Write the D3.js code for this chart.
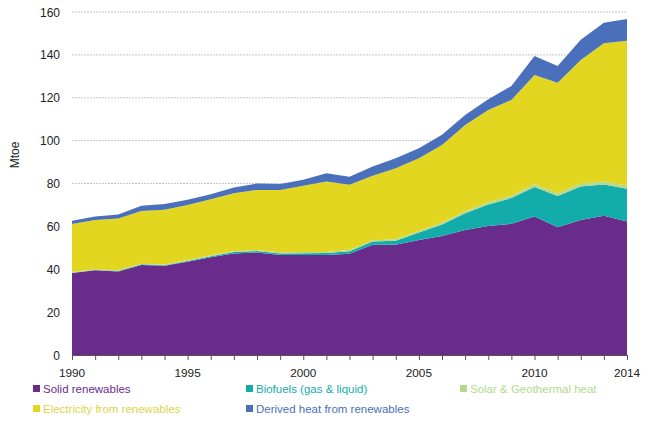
<!DOCTYPE html>
<html>
<head>
<meta charset="utf-8">
<script src="https://cdn.jsdelivr.net/npm/d3@7"></script>
<style>
  body { margin: 0; background: #fff; }
  text { font-family: "Liberation Sans", Arial, sans-serif; }
</style>
</head>
<body>
<div id="chart"></div>
<script>
var years = d3.range(1990, 2015);
var solid = [38.2, 39.5, 39, 42, 41.6, 43.5, 45.6, 47.4, 47.8, 46.6, 46.6, 46.6, 47.2, 51.4, 51.4, 53.7, 55.5, 58.3, 60.2, 61.2, 64.6, 59.6, 63, 64.9, 62.3];
var biofuels = [0.2, 0.2, 0.2, 0.3, 0.3, 0.4, 0.5, 0.6, 0.7, 0.8, 0.9, 1.0, 1.2, 1.5, 1.9, 3.5, 5.4, 7.8, 10, 12, 13.8, 14.6, 15.6, 14.6, 15.2];
var solar = [0.3, 0.3, 0.3, 0.3, 0.3, 0.4, 0.4, 0.4, 0.4, 0.5, 0.5, 0.5, 0.6, 0.6, 0.7, 0.7, 0.8, 0.9, 1.0, 1.1, 1.2, 1.3, 1.4, 1.5, 1.5];
var electricity = [22.4, 23, 24.2, 24.6, 25.5, 25.7, 26.2, 27.1, 28.1, 29.1, 30.9, 32.8, 30.4, 30.1, 33.1, 33.9, 36.3, 40.3, 43.1, 44.7, 51, 51.5, 57.6, 64.4, 67.6];
var derivedHeat = [1.5, 1.6, 1.8, 2.4, 2.7, 2.4, 2.3, 2.6, 3, 2.8, 2.8, 3.9, 3.8, 4.3, 4.7, 4.7, 4.7, 4.7, 5, 6.5, 8.9, 7.8, 9.4, 9.6, 10.1];

var seriesNames = ["Solid renewables", "Biofuels (gas & liquid)", "Solar & Geothermal heat", "Electricity from renewables", "Derived heat from renewables"];
var seriesKeys = ["solid", "biofuels", "solar", "electricity", "heat"];
var colors = ["#6a2c8b", "#12adab", "#b4d98e", "#e2d621", "#4a70bc"];
var yTicks = [0, 20, 40, 60, 80, 100, 120, 140, 160];
var xTickLabels = [1990, 1995, 2000, 2005, 2010, 2014];

// stack table built from the arrays
var table = years.map(function(yr, i) {
  return {year: yr, solid: solid[i], biofuels: biofuels[i], solar: solar[i], electricity: electricity[i], heat: derivedHeat[i]};
});

var W = 650, H = 424;
var margin = {top: 12, right: 23, bottom: 69, left: 72};

var x = d3.scaleLinear().domain([1990, 2014]).range([margin.left, W - margin.right]);
var y = d3.scaleLinear().domain([0, 160]).range([H - margin.bottom, margin.top]);

var svg = d3.select("#chart").append("svg")
    .attr("width", W)
    .attr("height", H);

// gridlines
svg.selectAll(".grid")
    .data(yTicks.slice(1))
    .enter().append("line")
    .attr("x1", x(1990))
    .attr("x2", x(2014))
    .attr("y1", function(d) { return y(d); })
    .attr("y2", function(d) { return y(d); })
    .attr("stroke", "#c8c8c8")
    .attr("stroke-width", 1)
    .attr("stroke-dasharray", "2,1");

var stack = d3.stack().keys(seriesKeys);
var layers = stack(table);

var area = d3.area()
    .x(function(d) { return x(d.data.year); })
    .y0(function(d) { return y(d[0]); })
    .y1(function(d) { return y(d[1]); });

svg.selectAll(".layer")
    .data(layers)
    .enter().append("path")
    .attr("class", "layer")
    .attr("d", area)
    .attr("fill", function(d, i) { return colors[i]; });

// y axis labels
svg.selectAll(".ylab")
    .data(yTicks)
    .enter().append("text")
    .attr("x", 60)
    .attr("y", function(d) { return y(d) + 4.5; })
    .attr("text-anchor", "end")
    .attr("font-size", 12)
    .attr("fill", "#222")
    .text(function(d) { return d; });

svg.append("text")
    .attr("transform", "translate(19,155) rotate(-90)")
    .attr("text-anchor", "middle")
    .attr("font-size", 12)
    .attr("fill", "#222")
    .text("Mtoe");

// x axis
var xAxis = d3.axisBottom(x)
    .tickValues(years)
    .tickSize(5)
    .tickFormat("");
svg.append("g")
    .attr("transform", "translate(0," + y(0) + ")")
    .call(xAxis)
    .call(function(g) {
      g.select(".domain").attr("stroke", "#555");
      g.selectAll(".tick line").attr("stroke", "#555");
    });

svg.selectAll(".xlab")
    .data(xTickLabels)
    .enter().append("text")
    .attr("x", function(d) { return x(d); })
    .attr("y", y(0) + 22)
    .attr("text-anchor", "middle")
    .attr("font-size", 11.8)
    .attr("fill", "#222")
    .text(function(d) { return d; });

// legend
var legendPos = [[33, 393], [246, 393], [460, 393], [33, 413], [246, 413]];
var legendText = ["#6a2c8b", "#12adab", "#b4d98e", "#dcd54a", "#4a70bc"];
var leg = svg.selectAll(".legend")
    .data(seriesNames)
    .enter().append("g")
    .attr("transform", function(d, i) { return "translate(" + legendPos[i][0] + "," + legendPos[i][1] + ")"; });
leg.append("rect")
    .attr("x", 0)
    .attr("y", -8)
    .attr("width", 7)
    .attr("height", 7)
    .attr("fill", function(d, i) { return colors[i]; });
leg.append("text")
    .attr("x", 10)
    .attr("y", 0)
    .attr("font-size", 11.5)
    .attr("fill", function(d, i) { return legendText[i]; })
    .text(function(d) { return d; });
</script>
</body>
</html>
